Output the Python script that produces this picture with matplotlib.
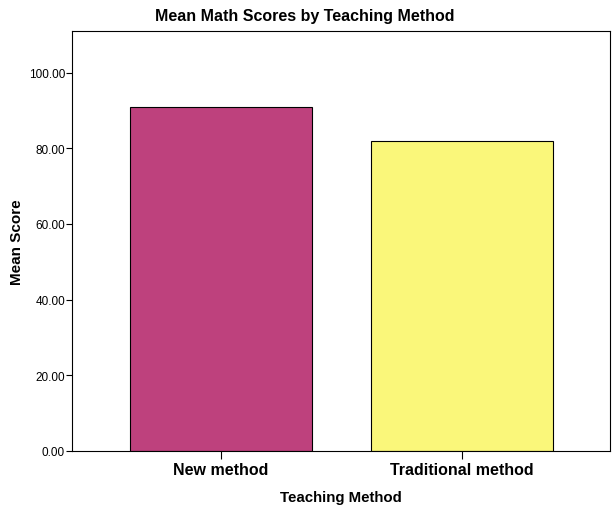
import numpy as np
import matplotlib.pyplot as plt

plt.rcParams['font.family'] = ['Liberation Sans', 'DejaVu Sans']

methods = ['New method', 'Traditional method']
means = [91.0, 81.8]
colors = ['#BE417D', '#FAF77A']
yticks = [0, 20, 40, 60, 80, 100]

fig = plt.figure(figsize=(6.16, 5.10), dpi=100)
ax = fig.add_axes([72/616, 1 - 452/510, 538/616, 420/510])

x = np.arange(len(methods))
ax.bar(x, means, width=0.755, color=colors, edgecolor='black', linewidth=0.8)

ax.set_xlim(-0.618, 1.614)
ax.set_ylim(0, 111)
ax.set_yticks(yticks)
ax.set_yticklabels(['%.2f' % v for v in yticks], fontsize=8.5)
ax.set_xticks(x)
ax.set_xticklabels(methods, fontsize=11.5, fontweight='bold')
ax.tick_params(axis='y', length=4, width=0.8, pad=1)
ax.tick_params(axis='x', length=6, width=0.8, pad=2)
for s in ax.spines.values():
    s.set_linewidth(0.8)

# label position chosen so it sits where the reference has it
ax.set_ylabel('Mean Score', fontsize=11, fontweight='bold')
ax.yaxis.set_label_coords(-0.09, 0.5)
ax.set_xlabel('Teaching Method', fontsize=10.8, fontweight='bold', labelpad=9)
# title is centred on the figure, not the axes
fig.suptitle('Mean Math Scores by Teaching Method', fontsize=11.5, fontweight='bold',
             x=0.494, y=1 - 9/510, va='top')

fig.savefig('out.png', dpi=100)
